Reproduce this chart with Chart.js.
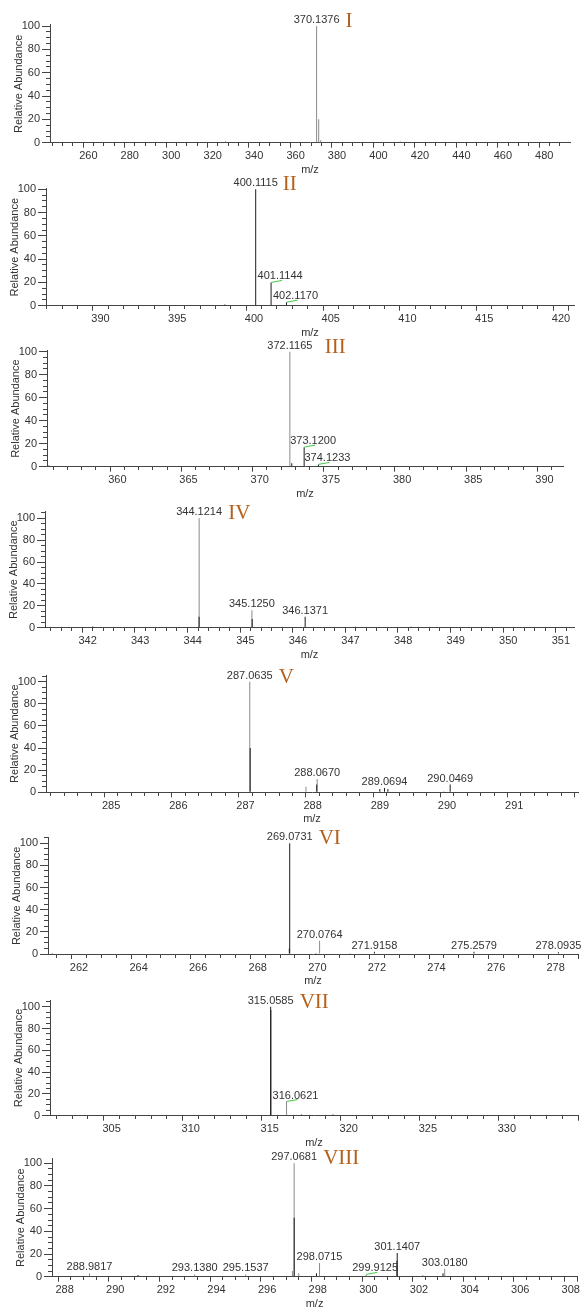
<!DOCTYPE html>
<html>
<head>
<meta charset="utf-8">
<script src="https://cdn.jsdelivr.net/npm/chart.js@4.4.1/dist/chart.umd.min.js"></script>
<style>
  body { margin: 0; background: #fff; width: 582px; height: 1308px; position: relative; overflow: hidden; }
  canvas { position: absolute; left: 0; }
</style>
</head>
<body>
<script>
// peaks are [m/z, relative abundance]; "dark" = centroid sticks drawn in black
const p1Peaks = [[280.0, 0.5], [326.1, 1.2], [370.1376, 100], [371.14, 20], [372.14, 2], [392.0, 0.3], [410.5, 1]];
const p1Dark = [];
const p1Labels = ['370.1376'];

const p2Peaks = [];
const p2Dark = [[387.4, 0.4], [398.1, 1], [400.1115, 100], [401.1144, 20], [402.1170, 3], [416.2, 0.4]];
const p2Labels = ['400.1115', '401.1144', '402.1170'];

const p3Peaks = [[372.1165, 100]];
const p3Dark = [[355.2, 1], [372.25, 3], [373.1200, 17], [374.1233, 2], [382.2, 0.5], [386.2, 0.4]];
const p3Labels = ['372.1165', '373.1200', '374.1233'];

const p4Peaks = [[344.1214, 100], [345.1250, 16]];
const p4Dark = [[341.2, 1], [342.1, 1], [344.12, 10], [344.2, 0.5], [345.13, 8], [346.1371, 10], [347.1, 0.8], [348.15, 0.8], [350.1, 0.6]];
const p4Labels = ['344.1214', '345.1250', '346.1371'];

const p5Peaks = [[287.0635, 100], [287.9, 5], [288.0670, 12], [289.95, 1]];
const p5Dark = [[287.07, 40], [288.06, 7], [289.0, 3], [289.0694, 4], [289.12, 3], [290.0469, 7]];
const p5Labels = ['287.0635', '288.0670', '289.0694', '290.0469'];

const p6Peaks = [[270.0764, 12]];
const p6Dark = [[261.1, 1], [265.3, 0.5], [269.0731, 100], [269.06, 5], [269.95, 1], [271.1, 0.3], [271.9158, 2], [274.0, 0.4], [275.2579, 2], [278.0935, 1.5]];
const p6Labels = ['269.0731', '270.0764', '271.9158', '275.2579', '278.0935'];

const p7Peaks = [[316.0621, 13]];
const p7Dark = [[315.0585, 100], [315.07, 97], [317.0, 1], [319.0, 1]];
const p7Labels = ['315.0585', '316.0621'];

const p8Peaks = [[288.9817, 3], [293.1380, 2], [295.1537, 2], [297.0, 5], [297.0681, 100], [297.25, 3], [298.0715, 12], [299.9125, 2], [303.0180, 7], [302.15, 1.5]];
const p8Dark = [[290.9, 1.5], [297.07, 52], [297.95, 3], [301.1407, 21], [301.13, 14], [302.95, 3]];
const p8Labels = ['288.9817', '293.1380', '295.1537', '297.0681', '298.0715', '299.9125', '301.1407', '303.0180'];

// labels sitting right of their stick, joined by a small green leader
const leaderLabels = ['401.1144', '402.1170', '373.1200', '374.1233', '316.0621', '299.9125'];

const panels = [
  { peaks: p1Peaks, dark: p1Dark, labels: p1Labels, roman: 'I',    romanDx: 29, xMin: 241.5,  xMax: 492.4,  major: 20, minor: 5,   left: 50, right: 570, top100: 26,   zero: 142.7,  yMax: 101 },
  { peaks: p2Peaks, dark: p2Dark, labels: p2Labels, roman: 'II',   romanDx: 27, xMin: 386.45, xMax: 420.85, major: 5,  minor: 1,   left: 46, right: 574, top100: 189.3, zero: 305.7, yMax: 100.5 },
  { peaks: p3Peaks, dark: p3Dark, labels: p3Labels, roman: 'III',  romanDx: 35, xMin: 355.06, xMax: 391.3,  major: 5,  minor: 1,   left: 47, right: 563, top100: 351.7, zero: 466.7, yMax: 101 },
  { peaks: p4Peaks, dark: p4Dark, labels: p4Labels, roman: 'IV',   romanDx: 29, xMin: 341.19, xMax: 351.25, major: 1,  minor: 0.2, left: 45, right: 574, top100: 518.3, zero: 627.7, yMax: 106 },
  { peaks: p5Peaks, dark: p5Dark, labels: p5Labels, roman: 'V',    romanDx: 29, xMin: 284.03, xMax: 291.95, major: 1,  minor: 0.2, left: 46, right: 578, top100: 681.7, zero: 792.3, yMax: 106 },
  { peaks: p6Peaks, dark: p6Dark, labels: p6Labels, roman: 'VI',   romanDx: 29, xMin: 260.96, xMax: 278.75, major: 2,  minor: 0.5, left: 48, right: 578, top100: 843.3, zero: 954,   yMax: 105 },
  { peaks: p7Peaks, dark: p7Dark, labels: p7Labels, roman: 'VII',  romanDx: 29, xMin: 301.1,  xMax: 334.5,  major: 5,  minor: 1,   left: 50, right: 578, top100: 1006.7, zero: 1115.7, yMax: 106 },
  { peaks: p8Peaks, dark: p8Dark, labels: p8Labels, roman: 'VIII', romanDx: 29, xMin: 287.5,  xMax: 308.25, major: 2,  minor: 0.5, left: 52, right: 580, top100: 1163.3, zero: 1276.7, yMax: 104 }
];

const FONT = "'Liberation Sans', Arial, sans-serif";
Chart.defaults.font.family = FONT;
Chart.defaults.font.size = 11;
Chart.defaults.color = '#333';

const onStep = (v, step) => Math.abs(v / step - Math.round(v / step)) < 1e-6;

// every multiple of step between min and max (Chart.js would swap the last one for max)
function stepTicks(min, max, step) {
  const out = [];
  for (let k = Math.ceil(min / step - 1e-6); k * step <= max + 1e-6; k++) {
    out.push({ value: +(k * step).toFixed(6) });
  }
  return out;
}

const peakText = {
  id: 'peakText',
  afterDatasetsDraw(chart, args, opts) {
    const { ctx, scales: { x, y } } = chart;
    const all = opts.peaks.concat(opts.dark);
    ctx.save();
    ctx.font = '11px ' + FONT;
    ctx.fillStyle = '#333';
    ctx.textAlign = 'center';
    opts.labels.forEach(t => {
      const mz = parseFloat(t);
      let ab = 0;
      all.forEach(p => { if (Math.abs(p[0] - mz) < 0.03 && p[1] > ab) ab = p[1]; });
      const px = x.getPixelForValue(mz), py = y.getPixelForValue(ab);
      if (leaderLabels.includes(t)) {
        ctx.strokeStyle = '#44c844';
        ctx.lineWidth = 1;
        ctx.beginPath();
        ctx.moveTo(px, py);
        ctx.lineTo(px + 11, py - 2);
        ctx.stroke();
        ctx.fillText(t, px + 9, py - 3);
      } else {
        ctx.fillText(t, px, py - 3);
      }
    });
    let main = all[0];
    all.forEach(p => { if (p[1] > main[1]) main = p; });
    ctx.font = '21px "Liberation Serif", "Times New Roman", serif';
    ctx.fillStyle = '#b5601a';
    ctx.textAlign = 'left';
    ctx.fillText(opts.roman, x.getPixelForValue(main[0]) + opts.romanDx, y.getPixelForValue(100) + 1);
    ctx.restore();
  }
};

panels.forEach(P => {
  const canvasTop = Math.round(P.top100 - 26);
  const zeroLocal = P.zero - canvasTop;
  const h = Math.round(zeroLocal + 36);
  const xHeight = h - zeroLocal;
  const chartTop = zeroLocal - (P.zero - P.top100) * P.yMax / 100;

  const cv = document.createElement('canvas');
  cv.width = 582;
  cv.height = h;
  cv.style.top = canvasTop + 'px';
  document.body.appendChild(cv);

  new Chart(cv, {
    type: 'bar',
    data: {
      datasets: [
        { data: P.peaks.map(p => ({ x: p[0], y: p[1] })), backgroundColor: '#8a8a8a', barThickness: 1, inflateAmount: 0, grouped: false, order: 2 },
        { data: P.dark.map(p => ({ x: p[0], y: p[1] })), backgroundColor: '#1c1c1c', barThickness: 1, inflateAmount: 0, grouped: false, order: 1 }
      ]
    },
    options: {
      responsive: false,
      animation: false,
      layout: { padding: { left: 0, right: 582 - P.right, top: chartTop, bottom: 0 } },
      plugins: {
        legend: { display: false },
        tooltip: { enabled: false },
        peakText: { peaks: P.peaks, dark: P.dark, labels: P.labels, roman: P.roman, romanDx: P.romanDx }
      },
      scales: {
        x: {
          type: 'linear',
          min: P.xMin,
          max: P.xMax,
          offset: false,
          border: { color: '#444', width: 1 },
          grid: {
            drawOnChartArea: false,
            tickLength: 5,
            tickColor: '#444',
            tickBorderDash: c => (c.tick && !onStep(c.tick.value, P.major)) ? [3, 100] : []
          },
          ticks: {
            stepSize: P.minor,
            maxTicksLimit: 1000,
            autoSkip: false,
            maxRotation: 0,
            padding: 2,
            color: '#333',
            callback: v => onStep(v, P.major) ? String(Math.round(v)) : ''
          },
          afterBuildTicks: s => { s.ticks = stepTicks(s.min, s.max, P.minor); },
          afterFit: s => { s.height = xHeight; },
          title: { display: true, text: 'm/z', color: '#333', padding: { top: 0, bottom: 2 } }
        },
        y: {
          min: 0,
          max: P.yMax,
          border: { color: '#444', width: 1 },
          grid: {
            drawOnChartArea: false,
            tickLength: 8,
            tickColor: '#444',
            tickBorderDash: c => (c.tick && !onStep(c.tick.value, 20)) ? [0, 4, 4, 100] : []
          },
          ticks: {
            stepSize: 5,
            maxTicksLimit: 1000,
            autoSkip: false,
            padding: 2,
            color: '#333',
            callback: v => onStep(v, 20) ? String(v) : ''
          },
          afterBuildTicks: s => { s.ticks = stepTicks(0, s.max, 5); },
          afterFit: s => { s.width = P.left; },
          title: { display: true, text: 'Relative Abundance', color: '#333', padding: { top: P.left - 38, bottom: 0 } }
        }
      }
    },
    plugins: [peakText]
  });
});
</script>
</body>
</html>
